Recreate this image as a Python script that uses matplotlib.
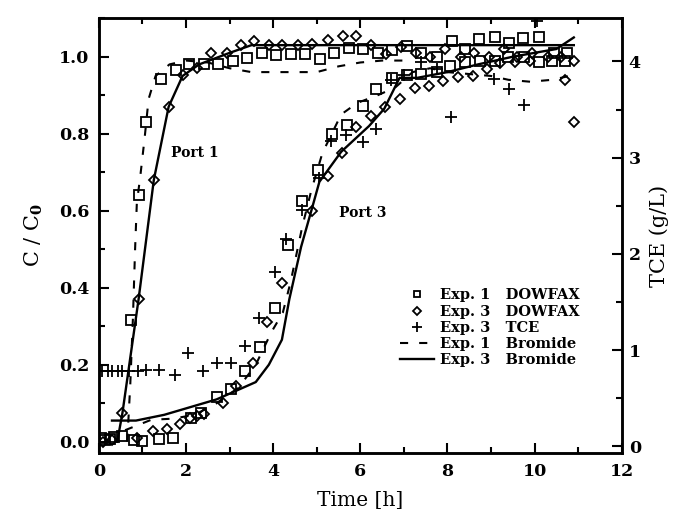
import numpy as np
import matplotlib.pyplot as plt
from matplotlib.lines import Line2D
from matplotlib.ticker import MultipleLocator, FormatStrFormatter

plt.rcParams['font.family'] = 'DejaVu Serif'
plt.rcParams['font.weight'] = 'bold'
plt.rcParams['mathtext.fontset'] = 'custom'
plt.rcParams['mathtext.rm'] = 'DejaVu Serif:bold'
plt.rcParams['mathtext.it'] = 'DejaVu Serif:bold'
plt.rcParams['mathtext.bf'] = 'DejaVu Serif:bold'

# Exp. 1 DOWFAX (squares), port 1 and port 3
dowfax1_p1_t = [0.74, 0.93, 1.08, 1.43, 1.76, 2.07, 2.42, 2.73, 3.07, 3.41, 3.75, 4.07,
                4.4, 4.74, 5.08, 5.4, 5.75, 6.07, 6.4, 6.73, 7.08, 7.4, 7.75, 8.1, 8.4,
                8.73, 9.1, 9.42, 9.74, 10.1, 10.45, 10.75]
dowfax1_p1_c = [0.315, 0.64, 0.83, 0.943, 0.966, 0.98, 0.98, 0.98, 0.99, 0.997, 1.01, 1.005,
                1.008, 1.008, 0.995, 1.01, 1.023, 1.02, 1.01, 1.018, 1.028, 1.01, 1.0, 1.04,
                1.02, 1.047, 1.052, 1.036, 1.049, 1.052, 1.01, 1.01]
dowfax1_p3_t = [0.05, 0.15, 0.25, 0.35, 0.54, 0.81, 1.0, 1.39, 1.71, 2.12, 2.35, 2.7, 3.04,
                3.35, 3.7, 4.03, 4.33, 4.67, 5.03, 5.34, 5.7, 6.05, 6.37, 6.72, 7.06, 7.4,
                7.75, 8.05, 8.4, 8.75, 9.1, 9.4, 9.75, 10.1, 10.4, 10.7]
dowfax1_p3_c = [0.01, 0.005, 0.008, 0.012, 0.015, 0.005, 0.003, 0.008, 0.01, 0.062, 0.075,
                0.115, 0.136, 0.183, 0.247, 0.348, 0.51, 0.626, 0.706, 0.80, 0.823, 0.873,
                0.917, 0.945, 0.953, 0.955, 0.96, 0.975, 0.985, 0.99, 0.99, 1.0, 1.0, 0.985,
                0.99, 0.99]

# Exp. 3 DOWFAX (diamonds), port 1 and port 3
dowfax3_p1_t = [0.54, 0.91, 1.26, 1.6, 1.92, 2.24, 2.58, 2.93, 3.27, 3.57, 3.9, 4.2, 4.56,
                4.9, 5.25, 5.6, 5.9, 6.25, 6.6, 6.93, 7.27, 7.6, 7.95, 8.3, 8.6, 8.95, 9.3,
                9.6, 9.95, 10.3, 10.6, 10.9]
dowfax3_p1_c = [0.075, 0.37, 0.68, 0.87, 0.953, 0.97, 1.01, 1.01, 1.03, 1.04, 1.03, 1.03,
                1.03, 1.034, 1.044, 1.055, 1.055, 1.03, 1.008, 1.025, 1.01, 1.0, 1.02, 1.0,
                1.01, 1.0, 1.02, 1.0, 1.01, 1.0, 1.0, 0.99]
dowfax3_p3_t = [0.1, 0.3, 0.88, 1.23, 1.56, 1.87, 2.08, 2.25, 2.42, 2.84, 3.15, 3.53, 3.86,
                4.21, 4.9, 5.25, 5.57, 5.9, 6.25, 6.57, 6.92, 7.25, 7.58, 7.9, 8.25, 8.58,
                8.9, 9.2, 9.55, 9.9, 10.7, 10.9]
dowfax3_p3_c = [0.0, 0.005, 0.01, 0.027, 0.033, 0.046, 0.062, 0.066, 0.072, 0.1, 0.145,
                0.205, 0.31, 0.413, 0.60, 0.69, 0.75, 0.817, 0.845, 0.869, 0.889, 0.92,
                0.925, 0.937, 0.946, 0.95, 0.968, 0.984, 0.986, 0.99, 0.94, 0.83]

# Exp. 3 TCE, g/L (right axis)
tce3_t = [0.08, 0.2, 0.31, 0.43, 0.54, 0.7, 0.89, 1.09, 1.39, 1.74, 2.04, 2.38, 2.7, 3.04,
          3.36, 3.68, 4.03, 4.3, 4.67, 5.06, 5.33, 5.67, 6.05, 6.37, 6.71, 7.0, 7.4, 7.75,
          8.07, 9.07, 9.42, 9.75, 10.06]
tce3_g = [0.78, 0.78, 0.78, 0.78, 0.78, 0.78, 0.78, 0.79, 0.79, 0.74, 0.97, 0.78, 0.86,
          0.86, 1.04, 1.33, 1.81, 2.15, 2.46, 2.79, 3.17, 3.24, 3.16, 3.3, 3.81, 3.86, 3.99,
          3.92, 3.42, 3.82, 3.71, 3.55, 4.42]

# Bromide breakthrough curves
br1_p1_t = [0.65, 0.72, 0.78, 0.83, 0.87, 0.95, 1.05, 1.14, 1.3, 1.62, 2.0, 2.5, 3.0, 3.5,
            4.0, 4.5, 5.0, 5.5, 6.0, 6.5, 7.0]
br1_p1_c = [0.0, 0.15, 0.32, 0.5, 0.62, 0.69, 0.79, 0.89, 0.95, 0.98, 0.99, 0.985, 0.97,
            0.96, 0.96, 0.96, 0.96, 0.975, 0.985, 0.99, 0.99]
br1_p3_t = [0.6, 1.2, 1.7, 2.2, 2.7, 3.2, 3.6, 3.96, 4.22, 4.4, 4.67, 4.88, 5.13, 5.56,
            5.93, 6.4, 6.8, 7.2, 7.6, 8.0, 8.5, 9.0, 9.4, 9.9, 10.4, 10.8]
br1_p3_c = [0.03, 0.057, 0.06, 0.07, 0.1, 0.14, 0.2, 0.285, 0.335, 0.415, 0.56, 0.655, 0.75,
            0.85, 0.88, 0.9, 0.92, 0.96, 0.97, 0.96, 0.955, 0.95, 0.94, 0.935, 0.94, 0.95]
br3_p1_t = [0.42, 0.54, 0.91, 1.26, 1.6, 1.92, 2.3, 3.0, 3.5, 5.0, 7.0, 9.0, 10.9]
br3_p1_c = [0.0, 0.075, 0.37, 0.68, 0.87, 0.95, 0.98, 1.01, 1.03, 1.03, 1.03, 1.03, 1.03]
br3_p3_t = [0.3, 0.85, 1.5, 2.7, 3.6, 3.9, 4.2, 4.37, 4.64, 4.9, 5.06, 5.56, 6.2, 6.55, 6.9,
            7.3, 8.0, 8.7, 9.5, 10.0, 10.5, 10.9]
br3_p3_c = [0.055, 0.055, 0.07, 0.11, 0.155, 0.2, 0.265, 0.37, 0.506, 0.61, 0.675, 0.753,
            0.82, 0.865, 0.945, 0.945, 0.96, 0.98, 1.0, 1.01, 1.02, 1.05]


def main():
    fig = plt.figure(figsize=(6.87, 5.20), dpi=100)
    ax = fig.add_axes([0.144, 0.129, 0.761, 0.836])

    dash = (3.9, 5.3)
    for t, c in [(br1_p1_t, br1_p1_c), (br1_p3_t, br1_p3_c)]:
        ax.plot(t, c, color='k', lw=1.5, dashes=dash)
    for t, c in [(br3_p1_t, br3_p1_c), (br3_p3_t, br3_p3_c)]:
        ax.plot(t, c, color='k', lw=1.7)

    mk = dict(ls='none', mfc='none', mec='k', mew=1.3)
    ax.plot(dowfax1_p1_t, dowfax1_p1_c, marker='s', ms=6.5, **mk)
    ax.plot(dowfax1_p3_t, dowfax1_p3_c, marker='s', ms=6.5, **mk)
    ax.plot(dowfax3_p1_t, dowfax3_p1_c, marker='D', ms=5.5, **mk)
    ax.plot(dowfax3_p3_t, dowfax3_p3_c, marker='D', ms=5.5, **mk)

    ax.text(2.2, 0.75, 'Port 1', ha='center', va='center', fontsize=10)
    ax.text(6.05, 0.595, 'Port 3', ha='center', va='center', fontsize=10)

    ax.set_xlim(0, 12)
    ax.set_ylim(-0.029, 1.10)
    ax.xaxis.set_major_locator(MultipleLocator(2))
    ax.xaxis.set_minor_locator(MultipleLocator(1))
    ax.yaxis.set_major_locator(MultipleLocator(0.2))
    ax.yaxis.set_minor_locator(MultipleLocator(0.1))
    ax.yaxis.set_major_formatter(FormatStrFormatter('%.1f'))
    ax.tick_params(which='both', direction='in', top=True, right=False, width=1.5,
                   labelsize=12.5, pad=7)
    ax.tick_params(which='major', length=7)
    ax.tick_params(which='minor', length=4)
    for s in ax.spines.values():
        s.set_linewidth(1.8)

    ax.set_xlabel('Time [h]', fontsize=14.5, labelpad=8)
    ax.set_ylabel('C / C$_0$', fontsize=15, labelpad=10)

    # TCE on the secondary axis
    ax2 = ax.twinx()
    ax2.plot(tce3_t, tce3_g, ls='none', marker='+', ms=8, mew=1.3, color='k')
    ax2.set_ylim(-0.07, 4.45)
    ax2.yaxis.set_major_locator(MultipleLocator(1))
    ax2.yaxis.set_minor_locator(MultipleLocator(0.5))
    ax2.tick_params(which='both', direction='in', width=1.5, labelsize=12.5, pad=5)
    ax2.tick_params(which='major', length=7)
    ax2.tick_params(which='minor', length=4)
    ax2.set_ylabel('TCE (g/L)', fontsize=15, labelpad=6)
    for s in ax2.spines.values():
        s.set_linewidth(1.8)

    handles = [
        Line2D([], [], marker='s', ms=5, **mk),
        Line2D([], [], marker='D', ms=4.5, **mk),
        Line2D([], [], ls='none', marker='+', ms=6.5, mew=1.3, color='k'),
        Line2D([], [], color='k', lw=1.5, dashes=dash),
        Line2D([], [], color='k', lw=1.7),
    ]
    labels = ['Exp. 1   DOWFAX', 'Exp. 3   DOWFAX', 'Exp. 3   TCE',
              'Exp. 1   Bromide', 'Exp. 3   Bromide']
    ax2.legend(handles, labels, loc='upper left', bbox_to_anchor=(0.562, 0.395),
               frameon=False, fontsize=10.5, borderpad=0, handlelength=2.3,
               handletextpad=0.45, labelspacing=0.15)

    fig.savefig('out.png', dpi=100)


if __name__ == '__main__':
    main()
